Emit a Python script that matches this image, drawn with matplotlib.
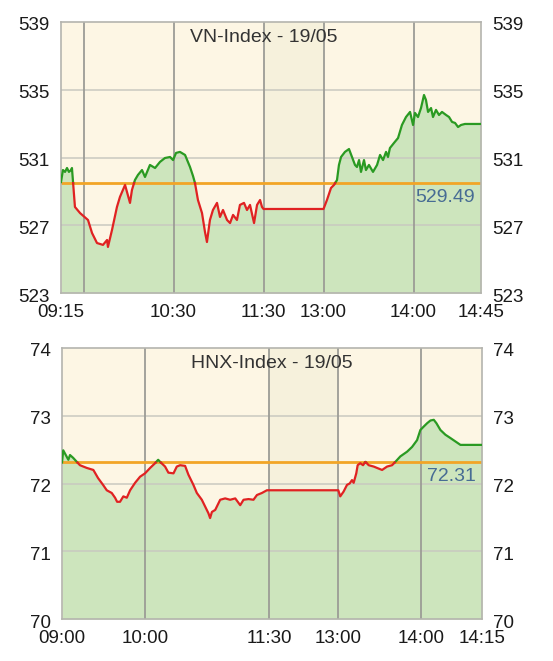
import numpy as np
import matplotlib
matplotlib.use("Agg")
import matplotlib.pyplot as plt
import matplotlib.transforms as mtransforms

plt.rcParams['font.family'] = ['Liberation Sans', 'DejaVu Sans']

# x is in "chart minutes": trading minutes from the open, lunch break squeezed
# VN-Index
vn_ref = 529.49
vn_x = [0, 1.3, 2.7, 4, 5.3, 6.7, 7.3, 9.3, 12.7, 18, 20.7, 24, 28, 30.7, 31.3, 34,
        37.3, 39.3, 42.7, 46, 47.3, 49.3, 51.3, 54, 56, 59.3, 62.7, 66, 69.3, 72.7,
        74.7, 76.7, 79.3, 82.7, 86, 88, 89.3, 91.3, 94, 96, 97.3, 99.3, 101.3, 104,
        106, 108, 110.7, 112.7, 114.7, 117.3, 119.3, 122, 124, 126, 128.7, 130.7,
        132.7, 134, 135,
        175, 177.3, 180, 182, 184, 185.3, 186.7, 189.3, 192, 194, 196, 197.3, 198.7,
        200, 202, 203.3, 205.3, 208, 210.7, 212.7, 214.7, 216.7, 218, 219.3, 222,
        224.7, 227.3, 230, 232.7, 234.7, 236, 238, 240, 242, 243.3, 244.7, 246.7,
        248, 250, 252, 254, 256.7, 258.7, 260.7, 262.7, 264.7, 266.7, 269.3, 280]
vn_y = [529.55, 530.26, 530.15, 530.38, 530.15, 530.26, 530.38, 528.08, 527.72,
        527.31, 526.54, 525.95, 525.84, 526.13, 525.72, 526.72, 528.08, 528.67,
        529.38, 528.32, 529.08, 529.67, 529.97, 530.26, 529.85, 530.56, 530.38,
        530.74, 530.97, 531.03, 530.85, 531.27, 531.33, 531.15, 530.44, 529.91,
        529.50, 528.49, 527.72, 526.60, 526.01, 527.31, 527.90, 528.32, 527.49,
        527.90, 527.31, 527.13, 527.61, 527.31, 528.20, 528.32, 527.90, 528.20,
        527.13, 528.20, 528.49, 528.08, 527.96,
        527.96, 528.49, 529.20, 529.38, 529.67, 530.56, 531.03, 531.33, 531.50,
        531.03, 530.56, 530.44, 530.85, 530.15, 530.85, 530.26, 530.56, 530.15,
        530.56, 531.15, 530.85, 531.33, 531.03, 531.56, 531.86, 532.15, 532.92,
        533.39, 533.69, 532.92, 533.63, 533.39, 533.92, 534.69, 534.40, 533.69,
        533.92, 533.39, 533.81, 533.51, 533.69, 533.51, 533.39, 533.10, 533.04,
        532.80, 532.92, 532.98, 532.98]
vn_ticks = [0, 75, 135, 175, 235, 280]
vn_labels = ['09:15', '10:30', '11:30', '13:00', '14:00', '14:45']
vn_vgrid = [15, 75, 135, 175, 235]
vn_yticks = [523, 527, 531, 535, 539]
vn_lunch = (135, 175)

# HNX-Index
hnx_ref = 72.31
hnx_x = [0, 0.9, 4.6, 5.8, 8, 10.7, 13, 17.9, 22.7, 26.1, 29.7, 32.4, 36, 38.4, 39.9,
         42, 44.4, 46.9, 49.3, 52.9, 56.5, 60.1, 63.8, 67.4, 69.6, 71, 74.6, 77,
         80.7, 83.1, 85.5, 89.1, 91.5, 95.1, 97.6, 101.2, 103.6, 106, 107.2, 108.5,
         110.9, 114.5, 118.1, 121.7, 125.4, 129, 131.4, 135, 138.6, 141.1, 144.7,
         148.3, 150,
         200, 201.4, 203.8, 206.3, 208.2, 209.9, 211.1, 213, 214, 215.9, 217.9,
         219.6, 222, 225.6, 229.2, 231.7, 235.3, 238.9, 241.3, 244.9, 249.8, 253.4,
         257, 259.4, 261.8, 264.3, 266.7, 269.1, 271, 273.9, 277.5, 281.2, 284.8,
         288.4, 304]
hnx_y = [72.31, 72.49, 72.35, 72.42, 72.38, 72.32, 72.27, 72.23, 72.20, 72.08, 71.98,
         71.90, 71.86, 71.79, 71.73, 71.73, 71.81, 71.79, 71.90, 72.01, 72.10, 72.15,
         72.23, 72.30, 72.35, 72.32, 72.25, 72.16, 72.15, 72.25, 72.27, 72.26, 72.13,
         71.98, 71.86, 71.76, 71.66, 71.56, 71.49, 71.58, 71.61, 71.76, 71.78, 71.76,
         71.78, 71.68, 71.76, 71.77, 71.76, 71.83, 71.86, 71.90, 71.90,
         71.90, 71.81, 71.88, 71.98, 72.00, 72.05, 72.01, 72.15, 72.27, 72.30, 72.27,
         72.32, 72.27, 72.25, 72.22, 72.20, 72.25, 72.27, 72.32, 72.40, 72.47, 72.54,
         72.64, 72.79, 72.84, 72.89, 72.93, 72.94, 72.89, 72.79, 72.72, 72.67, 72.62,
         72.57, 72.57]
hnx_ticks = [0, 60, 150, 200, 260, 304]
hnx_labels = ['09:00', '10:00', '11:30', '13:00', '14:00', '14:15']
hnx_vgrid = [60, 150, 200, 260]
hnx_yticks = [70, 71, 72, 73, 74]
hnx_lunch = (150, 200)

BG = '#fdf6e4'
LUNCH = '#f6f1dc'
FILL = '#cde5bd'
UP = '#2a9a22'
DOWN = '#e02222'
REF = '#f2a526'
LABEL = '#476c94'


def split_at_ref(x, y, ref):
    xs, ys = [x[0]], [y[0]]
    for i in range(1, len(x)):
        if (y[i - 1] - ref) * (y[i] - ref) < 0:
            t = (ref - y[i - 1]) / (y[i] - y[i - 1])
            xs.append(x[i - 1] + t * (x[i] - x[i - 1]))
            ys.append(ref)
        xs.append(x[i])
        ys.append(y[i])
    return np.array(xs), np.array(ys)


def draw(ax, x, y, ref, ticks, labels, vgrid, yticks, lunch, title, title_x):
    ax.set_facecolor(BG)
    ax.axvspan(lunch[0], lunch[1], color=LUNCH, zorder=0.5, lw=0)
    xs, ys = split_at_ref(x, y, ref)
    sess = (xs <= lunch[0]) | (xs >= lunch[1])
    ax.fill_between(xs, ys, yticks[0], where=sess, color=FILL, lw=0, zorder=1)
    ax.hlines(yticks[1:-1], ticks[0], ticks[-1], color='#c9c9c0', lw=1.1, zorder=1.5)
    ax.vlines(vgrid, yticks[0], yticks[-1], color='#9c9c96', lw=1.3, zorder=1.6)
    ax.axhline(ref, color=REF, lw=2, zorder=2.5)
    ax.plot(xs, np.where(ys >= ref, ys, np.nan), color=UP, lw=1.6, zorder=3)
    ax.plot(xs, np.where(ys <= ref, ys, np.nan), color=DOWN, lw=1.6, zorder=3)

    ax.set_xlim(ticks[0], ticks[-1])
    ax.set_ylim(yticks[0], yticks[-1])
    ax.set_xticks(ticks)
    ax.set_xticklabels(labels)
    ax.set_yticks(yticks)
    ax.tick_params(which='both', length=0, labelsize=13.5, labelcolor='#1a1a1a',
                   labelright=True)
    ax.tick_params(axis='x', pad=8)
    ax.tick_params(axis='y', pad=8)
    off = mtransforms.ScaledTranslation(0, -2 / 100, ax.figure.dpi_scale_trans)
    for lab in ax.get_yticklabels(which='both'):
        lab.set_transform(lab.get_transform() + off)
    for s in ax.spines.values():
        s.set_color('#b4b4ae')
        s.set_linewidth(1.2)
    ax.text(title_x, 0.942, title, transform=ax.transAxes, ha='center', va='center',
            fontsize=14, color='#333333', zorder=4)
    lab_off = mtransforms.ScaledTranslation(0, -6 / 100, ax.figure.dpi_scale_trans)
    ax.text(0.985, ref, '%.2f' % ref,
            transform=ax.get_yaxis_transform() + lab_off,
            ha='right', va='top', fontsize=14, color=LABEL, zorder=4)


fig = plt.figure(figsize=(5.53, 6.61), dpi=100)
ax1 = fig.add_axes([61 / 553, 1 - 293 / 661, 420 / 553, 271 / 661])
ax2 = fig.add_axes([62 / 553, 1 - 619 / 661, 420 / 553, 271 / 661])
draw(ax1, vn_x, vn_y, vn_ref, vn_ticks, vn_labels, vn_vgrid, vn_yticks, vn_lunch,
     'VN-Index - 19/05', 0.482)
draw(ax2, hnx_x, hnx_y, hnx_ref, hnx_ticks, hnx_labels, hnx_vgrid, hnx_yticks,
     hnx_lunch, 'HNX-Index - 19/05', 0.5)
fig.savefig('out.png', dpi=100, facecolor='white')
